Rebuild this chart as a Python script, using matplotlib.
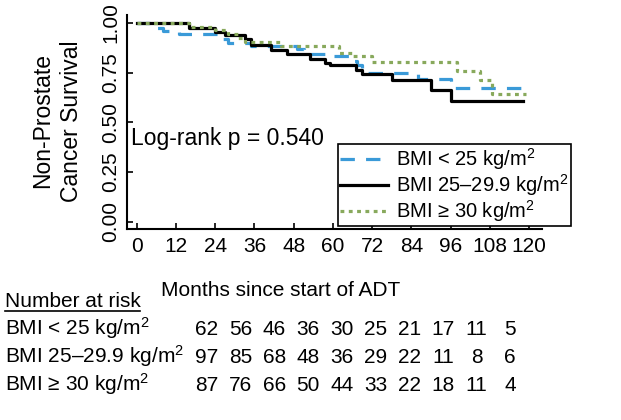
import matplotlib
matplotlib.use("Agg")
import matplotlib.pyplot as plt
from matplotlib.lines import Line2D

plt.rcParams['font.family'] = ['Liberation Sans', 'DejaVu Sans']
plt.rcParams['mathtext.fontset'] = 'custom'
plt.rcParams['mathtext.rm'] = 'Liberation Sans'
plt.rcParams['mathtext.default'] = 'regular'

# Kaplan-Meier steps (months, survival)
blue_t = [0, 4, 8, 13, 26, 28, 35, 49, 51, 58, 66, 67.5, 69, 70, 86, 96, 119]
blue_s = [1.0, 0.976, 0.96, 0.945, 0.92, 0.90, 0.885, 0.87, 0.845, 0.835, 0.81, 0.79, 0.77, 0.75, 0.72, 0.675, 0.675]

black_t = [0, 16, 24, 27, 33, 35, 41, 46, 53, 57.5, 59, 67, 69, 78, 90, 96, 118]
black_s = [1.0, 0.975, 0.955, 0.94, 0.92, 0.89, 0.865, 0.845, 0.82, 0.80, 0.79, 0.765, 0.745, 0.715, 0.665, 0.605, 0.605]

green_t = [0, 16, 24, 28, 31, 33, 44, 62, 66, 72, 98, 105, 108.5, 119]
green_s = [1.0, 0.98, 0.965, 0.945, 0.925, 0.905, 0.885, 0.85, 0.835, 0.805, 0.76, 0.715, 0.64, 0.64]

xticks = [0, 12, 24, 36, 48, 60, 72, 84, 96, 108, 120]
yticks = [0.0, 0.25, 0.5, 0.75, 1.0]

group_labels = ["BMI < 25 kg/m$^2$", "BMI 25\u201329.9 kg/m$^2$", "BMI \u2265 30 kg/m$^2$"]
risk_blue = [62, 56, 46, 36, 30, 25, 21, 17, 11, 5]
risk_black = [97, 85, 68, 48, 36, 29, 22, 11, 8, 6]
risk_green = [87, 76, 66, 50, 44, 33, 22, 18, 11, 4]

W, H = 621, 420
fig = plt.figure(figsize=(W / 100, H / 100), dpi=100)
ax = fig.add_axes([127 / W, 1 - 229 / H, 415 / W, 214 / H])

blue = '#3a9ad8'
green = '#88a95c'
ax.step(blue_t, blue_s, where='post', color=blue, lw=2.3, linestyle=(0, (4.5, 3.5)), label=group_labels[0])
ax.step(black_t, black_s, where='post', color='black', lw=2.3, label=group_labels[1])
ax.step(green_t, green_s, where='post', color=green, lw=2.3, linestyle=(0, (1.2, 1.4)), label=group_labels[2])

ax.set_xlim(-2.95, 123.9)
ax.set_ylim(-0.037, 1.04)
ax.set_xticks(xticks)
ax.set_yticks(yticks)
ax.set_yticklabels(["%.2f" % v for v in yticks], rotation=90, va='center')
ax.tick_params(direction='in', length=4, width=1.2, labelsize=15)
ax.tick_params(axis='x', pad=6)
ax.tick_params(axis='y', pad=5)
for s in ['top', 'right']:
    ax.spines[s].set_visible(False)
for s in ['left', 'bottom']:
    ax.spines[s].set_linewidth(1.5)

ax.text(-1.8, 0.42, "Log-rank p = 0.540", fontsize=16.5, va='center', ha='left')

leg = ax.legend(loc='upper left', bbox_to_anchor=(0.508, 0.395), fontsize=14.5,
                fancybox=False, edgecolor='black', framealpha=1, handlelength=2.4,
                borderpad=0.1, labelspacing=0.0, handletextpad=0.4, borderaxespad=0)
leg.get_frame().set_linewidth(1.2)

fig.text(57 / W, 1 - 121 / H, "Non-Prostate\nCancer Survival", rotation=90,
         ha='center', va='center', ma='center', fontsize=16.5, linespacing=1.3)
fig.text(281 / W, 1 - 296 / H, "Months since start of ADT", ha='center', va='baseline', fontsize=15)

# number at risk table
fig.text(5 / W, 1 - 307 / H, "Number at risk", ha='left', va='baseline', fontsize=15)
fig.add_artist(Line2D([5 / W, 140 / W], [1 - 311 / H, 1 - 311 / H], color='black', lw=1.2))
rows = [risk_blue, risk_black, risk_green]
baselines = [335, 363, 391]
for lab, vals, b in zip(group_labels, rows, baselines):
    fig.text(5 / W, 1 - b / H, lab, ha='left', va='baseline', fontsize=15)
    for i, v in enumerate(vals):
        fig.text((207 + i * 33.7) / W, 1 - b / H, str(v), ha='center', va='baseline', fontsize=15)

fig.savefig("out.png", dpi=100)
